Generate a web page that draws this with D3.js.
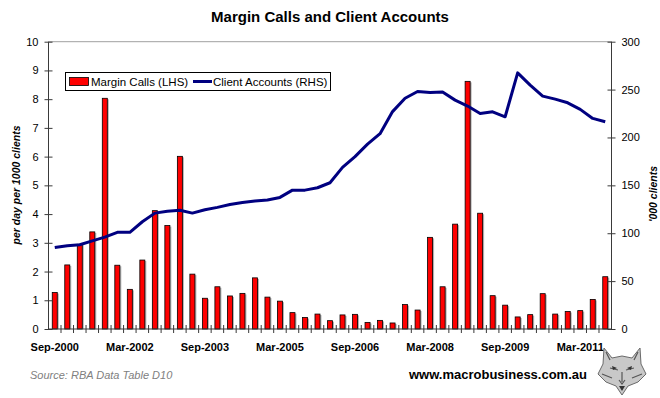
<!DOCTYPE html>
<html>
<head>
<meta charset="utf-8">
<script src="https://cdn.jsdelivr.net/npm/d3@7/dist/d3.min.js"></script>
<style>
  html, body { margin: 0; padding: 0; background: #fff; }
  svg { display: block; font-family: Arial, "Liberation Sans", sans-serif; }
</style>
</head>
<body>
<svg id="chart" width="660" height="398"></svg>
<script>
const quarters = [
  "Sep-2000","Dec-2000","Mar-2001","Jun-2001","Sep-2001","Dec-2001",
  "Mar-2002","Jun-2002","Sep-2002","Dec-2002","Mar-2003","Jun-2003",
  "Sep-2003","Dec-2003","Mar-2004","Jun-2004","Sep-2004","Dec-2004",
  "Mar-2005","Jun-2005","Sep-2005","Dec-2005","Mar-2006","Jun-2006",
  "Sep-2006","Dec-2006","Mar-2007","Jun-2007","Sep-2007","Dec-2007",
  "Mar-2008","Jun-2008","Sep-2008","Dec-2008","Mar-2009","Jun-2009",
  "Sep-2009","Dec-2009","Mar-2010","Jun-2010","Sep-2010","Dec-2010",
  "Mar-2011","Jun-2011","Sep-2011"
];
const marginCalls = [
  1.27, 2.23, 2.95, 3.38, 8.03, 2.22, 1.38, 2.40, 4.12, 3.60, 6.01, 1.91,
  1.07, 1.47, 1.15, 1.24, 1.78, 1.11, 0.97, 0.57, 0.40, 0.52, 0.29, 0.49,
  0.51, 0.23, 0.30, 0.21, 0.85, 0.66, 3.19, 1.47, 3.65, 8.62, 4.03, 1.16,
  0.83, 0.42, 0.50, 1.23, 0.52, 0.61, 0.64, 1.03, 1.82
];
const clientAccounts = [
  85, 87, 88, 92, 96, 101, 101, 112, 121, 123, 124, 121,
  124.5, 127, 130, 132, 133.6, 134.7, 137.4, 145, 145, 147.5, 152.7, 168.8,
  180, 193, 204, 227, 241, 248, 247, 247.4, 239, 232.8, 225.1, 226.8,
  221.6, 267.5, 254.7, 243.2, 240, 236.2, 229.3, 219.9, 216.4
];
const leftTicks = [0,1,2,3,4,5,6,7,8,9,10];
const rightTicks = [0,50,100,150,200,250,300];
const xLabelEvery = 6;

const svg = d3.select("#chart");
const L = 48.5, R = 611.5, T = 41.7, B = 329;
const axisColor = "#3a3a3a";

const x = d3.scaleBand().domain(quarters).range([L, R]).padding(0);
const yL = d3.scaleLinear().domain([0, 10]).range([B, T]);
const yR = d3.scaleLinear().domain([0, 300]).range([B, T]);
const bw = x.bandwidth();
const barW = 5;

// Title
svg.append("text").attr("x", 330).attr("y", 22).attr("text-anchor", "middle")
  .attr("font-size", 15).attr("font-weight", "bold").attr("fill", "#000")
  .text("Margin Calls and Client Accounts");

// top plot border
svg.append("line").attr("x1", L).attr("x2", R).attr("y1", T).attr("y2", T)
  .attr("stroke", "#a0a0a0").attr("stroke-width", 1);

// Bars (shadow + bar)
const bars = svg.append("g");
bars.selectAll("rect.sh").data(marginCalls).join("rect").attr("class", "sh")
  .attr("x", (d, i) => x(quarters[i]) + bw / 2 - barW / 2 + 1.5)
  .attr("y", d => yL(d) + 1)
  .attr("width", barW).attr("height", d => B - yL(d) - 1)
  .attr("fill", "#b0b0b0");
bars.selectAll("rect.bar").data(marginCalls).join("rect").attr("class", "bar")
  .attr("x", (d, i) => x(quarters[i]) + bw / 2 - barW / 2)
  .attr("y", d => yL(d))
  .attr("width", barW).attr("height", d => B - yL(d))
  .attr("fill", "#ff0000").attr("stroke", "#000").attr("stroke-width", 0.8);

// Line
const line = d3.line()
  .x((d, i) => x(quarters[i]) + bw / 2)
  .y(d => yR(d));
svg.append("path").datum(clientAccounts).attr("d", line)
  .attr("fill", "none").attr("stroke", "#000080").attr("stroke-width", 3)
  .attr("stroke-linejoin", "round");

// Left axis
const gL = svg.append("g").attr("transform", `translate(${L},0)`);
gL.call(d3.axisLeft(yL).tickValues(leftTicks).tickSize(4).tickPadding(6).tickFormat(d3.format("d")));
gL.selectAll(".tick line").attr("x2", 4).attr("x1", -4).attr("stroke", axisColor);
gL.select(".domain").attr("d", `M0,${T}V${B}`).attr("stroke", axisColor);
gL.selectAll("text").attr("font-size", 11).attr("fill", "#000").attr("font-family", "Arial, 'Liberation Sans', sans-serif");

// Right axis
const gR = svg.append("g").attr("transform", `translate(${R},0)`);
gR.call(d3.axisRight(yR).tickValues(rightTicks).tickSize(4).tickPadding(6).tickFormat(d3.format("d")));
gR.selectAll(".tick line").attr("x1", -4).attr("x2", 4).attr("stroke", axisColor);
gR.select(".domain").attr("d", `M0,${T}V${B}`).attr("stroke", axisColor);
gR.selectAll("text").attr("font-size", 11).attr("fill", "#000").attr("font-family", "Arial, 'Liberation Sans', sans-serif");

// Bottom axis
const gB = svg.append("g").attr("transform", `translate(0,${B})`);
gB.append("line").attr("x1", L).attr("x2", R).attr("stroke", axisColor);
gB.selectAll("line.tk").data(quarters.slice(1)).join("line").attr("class", "tk")
  .attr("x1", d => x(d)).attr("x2", d => x(d)).attr("y1", -4).attr("y2", 4)
  .attr("stroke", axisColor);
gB.selectAll("text").data(quarters.filter((d, i) => i % xLabelEvery === 0)).join("text")
  .attr("x", d => x(d) + bw / 2).attr("y", 22).attr("text-anchor", "middle")
  .attr("font-size", 11).attr("font-weight", "bold").attr("fill", "#000")
  .text(d => d);

// Axis titles
svg.append("text").attr("transform", "translate(20,185) rotate(-90)")
  .attr("text-anchor", "middle").attr("font-size", 10.5).attr("font-weight", "bold")
  .attr("font-style", "italic").text("per day per 1000 clients");
svg.append("text").attr("transform", "translate(657,194) rotate(-90)")
  .attr("text-anchor", "middle").attr("font-size", 10.5).attr("font-weight", "bold")
  .attr("font-style", "italic").text("'000 clients");

// Legend
const lg = svg.append("g");
lg.append("rect").attr("x", 65.5).attr("y", 72.5).attr("width", 265).attr("height", 18)
  .attr("fill", "#fff").attr("stroke", "#000").attr("stroke-width", 1);
lg.append("rect").attr("x", 69.5).attr("y", 77.5).attr("width", 19).attr("height", 8)
  .attr("fill", "#ff0000").attr("stroke", "#000").attr("stroke-width", 0.8);
lg.append("text").attr("x", 91).attr("y", 86).attr("font-size", 11.5).text("Margin Calls (LHS)");
lg.append("line").attr("x1", 193).attr("x2", 212).attr("y1", 81.5).attr("y2", 81.5)
  .attr("stroke", "#000080").attr("stroke-width", 3);
lg.append("text").attr("x", 213).attr("y", 86).attr("font-size", 11.5).text("Client Accounts (RHS)");

// Footer
svg.append("text").attr("x", 30).attr("y", 379).attr("font-size", 11)
  .attr("font-style", "italic").attr("fill", "#808080").text("Source: RBA Data Table D10");
svg.append("text").attr("x", 409).attr("y", 379).attr("font-size", 13)
  .attr("font-weight", "bold").attr("fill", "#000").text("www.macrobusiness.com.au");

// Wolf head logo (decorative sketch)
const w = svg.append("g").attr("transform", "translate(622,370)");
w.append("path").attr("d", "M-18,-22 L-10,-12 L0,-14 L10,-12 L18,-22 L19,-6 L24,4 L16,12 L6,16 L0,25 L-6,16 L-16,12 L-24,4 L-19,-6 Z")
  .attr("fill", "#c8c8c8").attr("stroke", "#6a6a6a").attr("stroke-width", 1);
w.append("path").attr("d", "M-16,-18 L-12,-10 M16,-18 L12,-10 M-12,-2 L-4,0 M12,-2 L4,0 M-3,10 L0,14 L3,10 M0,2 L0,12 M-20,4 L-10,8 M20,4 L10,8")
  .attr("fill", "none").attr("stroke", "#555").attr("stroke-width", 1.2);
w.append("path").attr("d", "M-10,-4 L-5,-2 L-9,0 Z M10,-4 L5,-2 L9,0 Z M-3,16 L0,21 L3,16 Z")
  .attr("fill", "#333");
</script>
</body>
</html>
